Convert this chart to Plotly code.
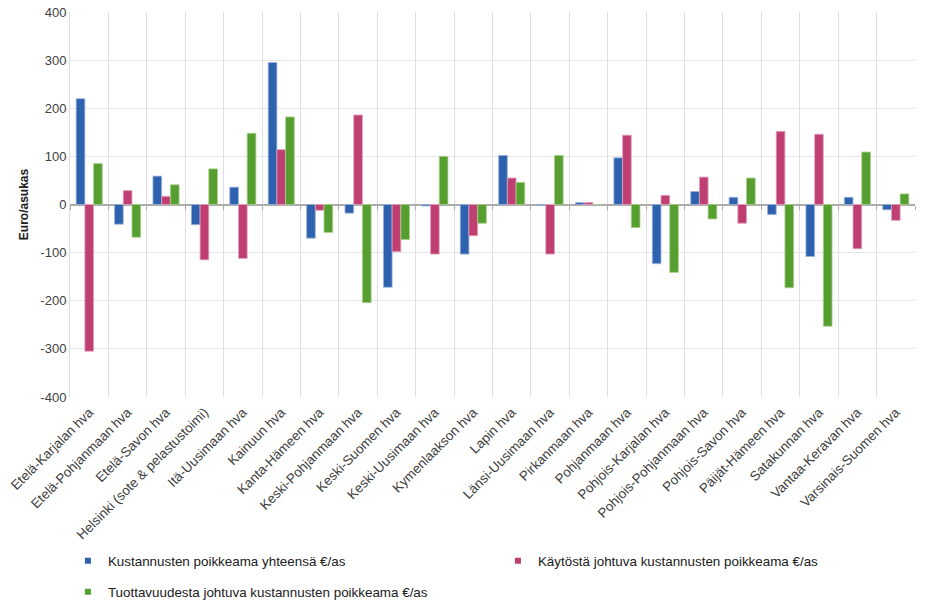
import plotly.graph_objects as go

categories = ["Etelä-Karjalan hva", "Etelä-Pohjanmaan hva", "Etelä-Savon hva",
              "Helsinki (sote & pelastustoimi)", "Itä-Uusimaan hva", "Kainuun hva",
              "Kanta-Hämeen hva", "Keski-Pohjanmaan hva", "Keski-Suomen hva",
              "Keski-Uusimaan hva", "Kymenlaakson hva", "Lapin hva",
              "Länsi-Uusimaan hva", "Pirkanmaan hva", "Pohjanmaan hva",
              "Pohjois-Karjalan hva", "Pohjois-Pohjanmaan hva", "Pohjois-Savon hva",
              "Päijät-Hämeen hva", "Satakunnan hva", "Vantaa-Keravan hva",
              "Varsinais-Suomen hva"]

total = [220, -41, 59, -42, 36, 295, -70, -18, -172, -3, -103, 102, -2, 4, 97,
         -123, 27, 15, -21, -108, 15, -11]
usage = [-305, 29, 17, -115, -112, 114, -12, 186, -98, -103, -65, 55, -103, 4, 144,
         19, 57, -39, 152, 146, -92, -33]
productivity = [85, -68, 41, 74, 148, 182, -58, -204, -73, 100, -39, 46, 102, 0, -48,
                -141, -30, 55, -173, -253, 109, 22]

y_tickvals = [-400, -300, -200, -100, 0, 100, 200, 300, 400]
y_ticktext = ["-400", "-300", "-200", "-100", "0", "100", "200", "300", "400"]

names = ["Kustannusten poikkeama yhteensä €/as",
         "Käytöstä johtuva kustannusten poikkeama €/as",
         "Tuottavuudesta johtuva kustannusten poikkeama €/as"]
colors = ["#2E62AF", "#BF3F72", "#559E2F"]
edges = ["#9DB4DC", "#E4A3BF", "#A9D18E"]
legend_ids = ["legend", "legend2", "legend3"]

fig = go.Figure()
for vals, nm, c, e in zip([total, usage, productivity], names, colors, edges):
    fig.add_trace(go.Bar(x=categories, y=vals, name=nm, showlegend=False,
                         marker=dict(color=c, line=dict(color=e, width=0.8))))
# invisible trace carrying the category axis drawn along the zero line (tick marks)
fig.add_trace(go.Scatter(x=categories, y=[None] * len(categories), xaxis="x2",
                         mode="markers", showlegend=False, hoverinfo="skip"))
# legend-only entries with small square symbols
for nm, c, lg in zip(names, colors, legend_ids):
    fig.add_trace(go.Scatter(x=[None], y=[None], mode="markers", name=nm, legend=lg,
                             marker=dict(symbol="square", size=6, color=c)))

n = len(categories)
font_main = "Liberation Sans, Arial, sans-serif"
leg_common = dict(orientation="h", xref="container", yref="container",
                  xanchor="left", yanchor="middle",
                  font=dict(size=13.4, color="#202020"), itemwidth=30,
                  bgcolor="rgba(0,0,0,0)")
fig.update_layout(
    width=925, height=602,
    margin=dict(l=70, r=10, t=12, b=205),
    paper_bgcolor="white", plot_bgcolor="white",
    barmode="group", bargap=0.32, bargroupgap=0,
    font=dict(family=font_main, color="#404040", size=13),
    xaxis=dict(tickangle=-45, tickson="boundaries", showgrid=True,
               range=[-0.5, n - 0.5], ticklabelstandoff=4,
               gridcolor="#DDDFE3", gridwidth=1, ticks="", showline=False,
               tickfont=dict(size=13.4, color="#404040"), automargin=False),
    xaxis2=dict(overlaying="x", anchor="free", position=0.5, side="bottom",
                range=[-0.5, n - 0.5], tickson="boundaries", ticks="outside",
                ticklen=4, tickcolor="#ABABAB", tickwidth=1, showticklabels=False,
                showgrid=False, showline=False, zeroline=False),
    yaxis=dict(range=[-400, 400], tickvals=y_tickvals, ticktext=y_ticktext,
               showgrid=True, gridcolor="#E4E6EA",
               gridwidth=1, zeroline=True, zerolinecolor="#ABABAB", zerolinewidth=1.5,
               showline=True, linecolor="#DDDFE3", linewidth=1,
               tickfont=dict(size=13, color="#404040"), ticks="",
               title=dict(text="<b>Euro/asukas</b>", font=dict(size=12, color="#202020"),
                          standoff=9),
               automargin=False),
    legend=dict(x=0.0734, y=1 - 561 / 602, **leg_common),
    legend2=dict(x=0.5383, y=1 - 561 / 602, **leg_common),
    legend3=dict(x=0.0734, y=1 - 592 / 602, **leg_common),
)

fig.write_html("out.html", post_script="document.body.style.margin='0';",
               config={"displayModeBar": False})
